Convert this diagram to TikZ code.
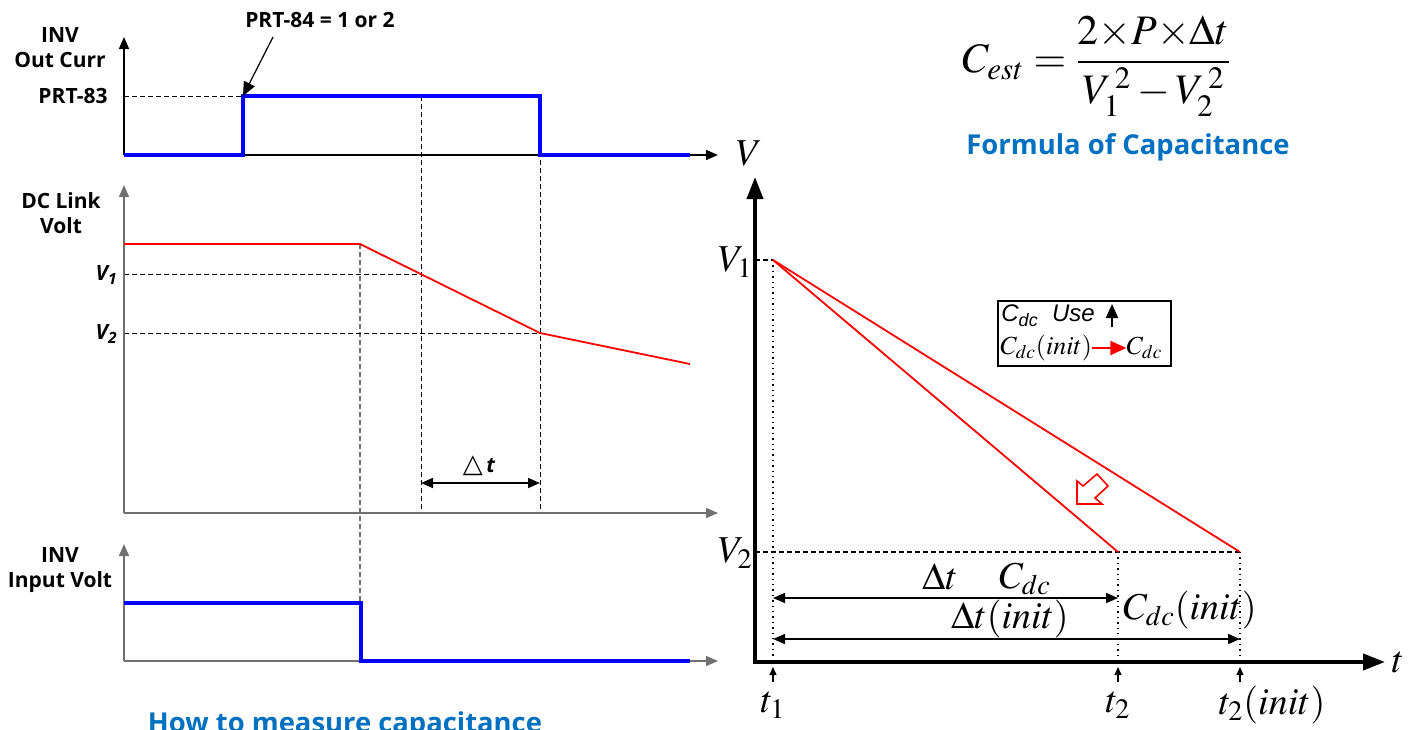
\documentclass[tikz,border=0pt]{standalone}
\usepackage{amsmath}
\usepackage{mathptmx}
\usepackage[no-math]{fontspec}
\usetikzlibrary{arrows.meta, positioning, calc}
\newfontfamily\sigfont{Open Sans}
\newfontfamily\legendfont{Liberation Sans}
\newfontfamily\symfont{DejaVu Sans}
\definecolor{titleblue}{HTML}{0070C0}
\definecolor{stepblue}{HTML}{0000FF}
\definecolor{droopred}{HTML}{FF0000}
\definecolor{axisgray}{HTML}{707070}
\tikzset{
  sigaxis/.style={-{Triangle[length=6pt,width=5pt]}, line width=0.7pt},
  stepline/.style={stepblue, line width=1.6pt},
  droopline/.style={droopred, line width=0.9pt},
  guide/.style={line width=0.5pt, dash pattern=on 2.5pt off 1.5pt},
  dotguide/.style={line width=0.7pt, dash pattern=on 0.7pt off 2pt},
  siglabel/.style={font={\sigfont\bfseries\fontsize{10.5}{12.5}\selectfont}, align=center, inner sep=0pt},
  figtitle/.style={font={\sigfont\bfseries\fontsize{13.7}{17}\selectfont}, text=titleblue, inner sep=0pt},
  plotaxis/.style={{Triangle[length=11pt,width=8pt]}-{Triangle[length=11pt,width=8pt]}, line width=2pt, line join=miter},
  plotlabel/.style={font={\fontsize{19}{22}\selectfont}, inner sep=0pt},
  spanarrow/.style={{Triangle[length=6pt,width=5pt]}-{Triangle[length=6pt,width=5pt]}, line width=0.8pt},
  tickarrow/.style={-{Triangle[length=4pt,width=3.5pt]}, line width=0.6pt}
}

\begin{document}
\begin{tikzpicture}[x=0.5pt, y=-0.5pt]
  \useasboundingbox (0,0) rectangle (1412,729);

  % guide lines of the three signals
  \draw[guide] (124,96) -- (243,96);
  \draw[guide] (421,96) -- (421,513);
  \draw[guide] (540,96) -- (540,513);
  \draw[guide, black!55, line width=0.8pt] (360,244) -- (360,603);
  \draw[guide] (124,274) -- (421,274);
  \draw[guide] (124,333) -- (540,333);

  % axes: out current, dc link, input volt
  \foreach \yb/\yt/\c in {155/37/black, 513/185/axisgray, 661/544/axisgray} {
    \draw[sigaxis, \c] (124,\yb) -- (124,\yt);
    \draw[sigaxis, \c] (124,\yb) -- (718,\yb);
  }

  % signals
  \draw[stepline] (124,155) -- (243,155) -- (243,96) coordinate (rise) -- (540,96) -- (540,155) -- (690,155);
  \draw[droopline] (124,244) -- (360,244) -- (540,333) -- (690,364);
  \draw[stepline] (124,603) -- (361,603) -- (361,661) -- (690,661);

  \node[siglabel] (curr) at (60,48) {INV\\Out Curr};
  \node[siglabel, anchor=east] (prt83) at (108,96) {PRT-83};
  \node[siglabel] (prt84) at (320,20) {PRT-84 = 1 or 2};
  \coordinate (tail) at (273,37);
  \draw[-{Triangle[length=7pt,width=6pt]}, line width=0.6pt] (tail) -- (rise);

  \node[siglabel] (dclink) at (61,213) {DC Link\\Volt};
  \node[siglabel, anchor=east] (lv1) at (118,275) {\itshape V\textsubscript{1}};
  \node[siglabel, anchor=east] (lv2) at (118,334) {\itshape V\textsubscript{2}};
  \node[siglabel] (dt) at (479,466) {{\symfont\mdseries\fontsize{13}{13}\selectfont △}\,\itshape t};
  \draw[spanarrow] (421,483) -- (540,483);

  \node[siglabel] (inpv) at (60,570) {INV\\Input Volt};
  \node[figtitle, anchor=base] (howto) at (345,732) {How to measure capacitance};

  % formula
  \node[font={\fontsize{21}{25}\selectfont}, inner sep=0pt] (formula) at (1097,66)
    {$C_{est}=\dfrac{2{\times}P{\times}\Delta t}{V_1^{\,2}-V_2^{\,2}}$};
  \node[figtitle] (fcap) at (1128,147) {Formula of Capacitance};

  % V-t plot
  \draw[plotaxis] (755,177) -- (755,662) -- (1385,662);
  \node[plotlabel] (vax) at (749,153) {$V$};
  \node[plotlabel] (tax) at (1398,662) {$t$};

  \coordinate (v1) at (773,260);
  \coordinate (e1) at (1118,552);
  \coordinate (e0) at (1240,552);
  \draw[guide, line width=0.7pt] (755,260) -- (v1);
  \draw[guide, line width=0.7pt] (755,552) -- (e0);
  \draw[dotguide] (v1) -- (773,662);
  \draw[dotguide] (e1) -- (1118,662);
  \draw[dotguide] (e0) -- (1240,662);
  \draw[droopline] (v1) -- (e1);
  \draw[droopline] (v1) -- (e0);
  \node[plotlabel, anchor=east] (lv1r) at (753,262) {$V_1$};
  \node[plotlabel, anchor=east] (lv2r) at (753,553) {$V_2$};

  \draw[spanarrow] (773,598) -- (1118,598);
  \draw[spanarrow] (773,639) -- (1240,639);
  \node[plotlabel] (dtl) at (940,577) {$\Delta t$};
  \node[plotlabel] (cdc) at (1025,579) {$C_{dc}$};
  \node[plotlabel] (dtinit) at (1010,619) {$\Delta t(init)$};
  \node[plotlabel] (cdcinit) at (1190,610) {$C_{dc}(init)$};

  \foreach \x in {773,1118,1240}
    \draw[tickarrow] (\x,682) -- (\x,667);
  \node[plotlabel] (t1) at (773,705) {$t_1$};
  \node[plotlabel] (t2) at (1118,705) {$t_2$};
  \node[plotlabel] (t2init) at (1272,705) {$t_2(init)$};

  % legend box
  \draw[line width=0.8pt] (998,301) rectangle (1171,366);
  \node[anchor=west, inner sep=0pt, font={\legendfont\itshape\fontsize{12}{14}\selectfont}] (use) at (1001,316) {C\textsubscript{dc}\ \ Use};
  \draw[-{Triangle[length=7pt,width=6pt]}, line width=0.9pt] (1112,327) -- (1112,304);
  \node[anchor=west, inner sep=0pt, font={\fontsize{13}{15}\selectfont}] (old) at (1000,348) {$C_{dc}(init)$};
  \draw[droopred, -{Triangle[length=8pt,width=7pt]}, line width=1pt] (old.east) -- ++(34,0) coordinate (arr);
  \node[anchor=west, inner sep=0pt, font={\fontsize{13}{15}\selectfont}] (new) at (arr) {$C_{dc}$};

  % hollow arrow towards the faster droop
  \draw[droopred, line width=0.8pt, line join=miter] (1077,504) -- (1077,481) -- (1083,486) -- (1097,474)
    -- (1108,486) -- (1095,498) -- (1102,504) -- cycle;
\end{tikzpicture}
\end{document}
